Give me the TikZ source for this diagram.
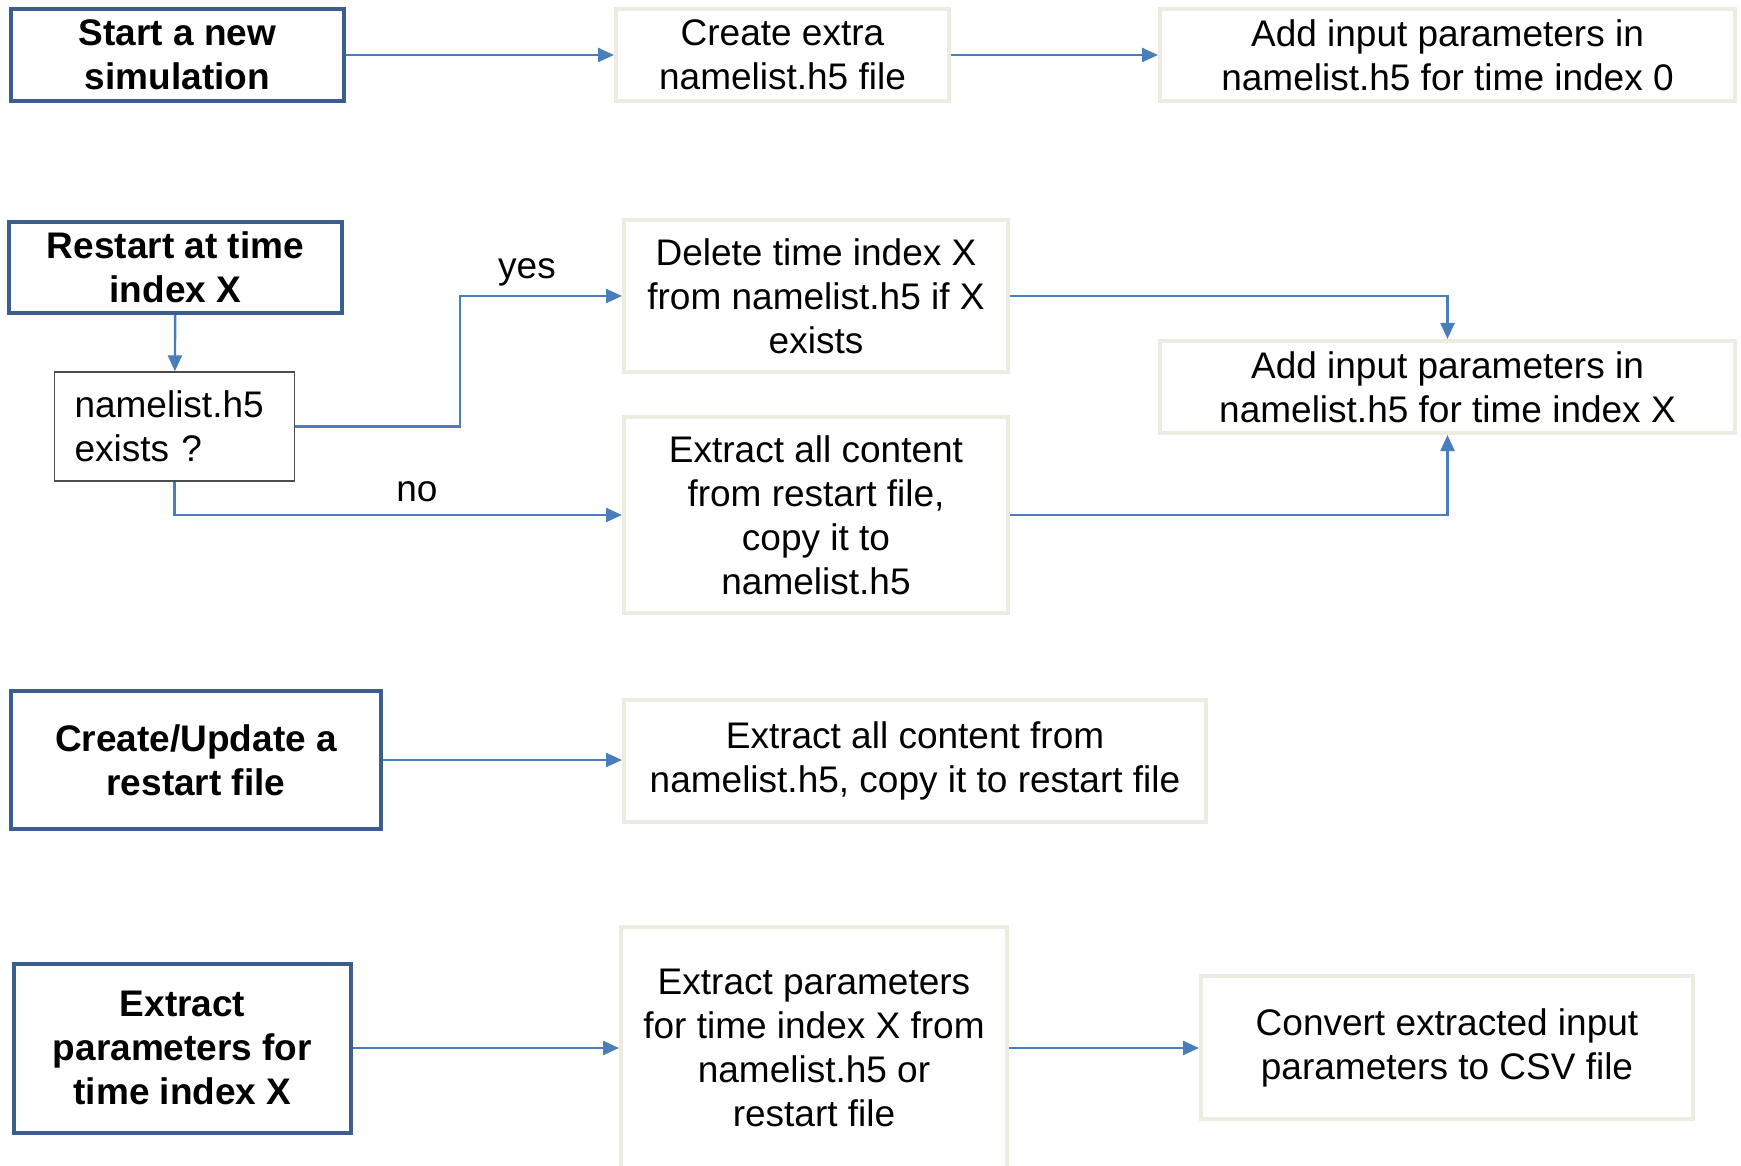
\documentclass[tikz,border=0pt]{standalone}
\usepackage{fontspec}
\setmainfont{Liberation Sans}
\usetikzlibrary{arrows.meta,positioning}
\definecolor{entryblue}{HTML}{3B5E8C}
\definecolor{linkblue}{HTML}{4A7EBB}
\definecolor{tanline}{HTML}{EEECE1}

\begin{document}
\begin{tikzpicture}[
  x=0.5pt,y=-0.5pt,
  every node/.style={font=\fontsize{18.5}{22}\selectfont},
  entry/.style={draw=entryblue,line width=2pt,align=center,inner sep=0pt,font=\fontsize{18.5}{22}\selectfont\bfseries},
  box/.style={draw=tanline,line width=2pt,align=center,inner sep=0pt},
  test/.style={draw=black!70,line width=0.7pt,align=left,inner xsep=10pt,inner ysep=0pt},
  arr/.style={-{Triangle[length=8pt,width=7pt]},draw=linkblue,line width=1.2pt}
]
\path[use as bounding box,fill=white] (0,0) rectangle (1741,1166);
% new simulation
\node[entry,minimum width=166.5pt,minimum height=46pt] (start) at (177.5,55) {Start a new\\simulation};
\node[box,minimum width=166.5pt,minimum height=46pt] (extra) at (782.5,55) {Create extra\\namelist.h5 file};
\node[box,minimum width=287.5pt,minimum height=46pt] (addzero) at (1447.5,55) {Add input parameters in\\namelist.h5 for time index 0};
% restart
\node[entry,minimum width=166.5pt,minimum height=45.5pt] (restart) at (175.5,267.5) {Restart at time\\index X};
\node[test,text width=100pt,minimum height=54.5pt] (exists) at (174.5,426.5) {namelist.h5\\exists ?};
\node[box,minimum width=192pt,minimum height=76pt] (delete) at (816,296) {Delete time index X\\from namelist.h5 if X\\exists};
\node[box,minimum width=192pt,minimum height=98pt] (extract) at (816,515) {Extract all content\\from restart file,\\copy it to\\namelist.h5};
\node[box,minimum width=287.5pt,minimum height=46pt] (addx) at (1447.5,387) {Add input parameters in\\namelist.h5 for time index X};
\coordinate (yesturn) at (460,426.5);
\node (yes) at (527,272) {yes};
\node (no) at (417,492) {no};
% restart file
\node[entry,minimum width=185pt,minimum height=69pt] (update) at (196,760) {Create/Update a\\restart file};
\node[box,minimum width=291pt,minimum height=61pt] (copyback) at (915,761) {Extract all content from\\namelist.h5, copy it to restart file};
% extract parameters
\node[entry,minimum width=168.5pt,minimum height=84.5pt] (params) at (182.5,1048) {Extract\\parameters for\\time index X};
\node[box,minimum width=193pt,minimum height=121pt] (getparams) at (814,1048) {Extract parameters\\for time index X from\\namelist.h5 or\\restart file};
\node[box,minimum width=246pt,minimum height=71.5pt] (tocsv) at (1447,1047.5) {Convert extracted input\\parameters to CSV file};

\draw[arr] (start) -- (extra);
\draw[arr] (extra) -- (addzero);
\draw[arr] (restart) -- (exists);
\draw[arr] (exists.east) -- (yesturn) |- (delete);
\draw[arr] (exists) |- (extract);
\draw[arr] (delete) -| (addx);
\draw[arr] (extract) -| (addx);
\draw[arr] (update) -- (update -| copyback.west);
\draw[arr] (params) -- (getparams);
\draw[arr] (getparams) -- (getparams -| tocsv.west);
\end{tikzpicture}
\end{document}
